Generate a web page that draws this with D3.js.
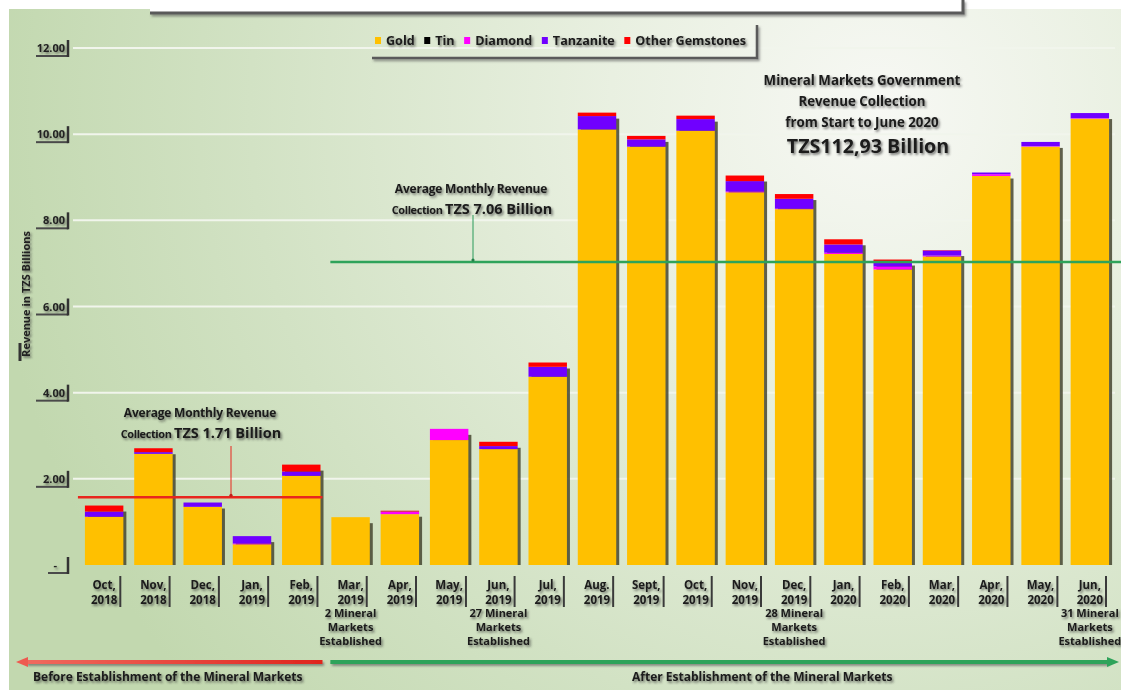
<!DOCTYPE html>
<html><head><meta charset="utf-8">
<script src="https://cdn.jsdelivr.net/npm/d3@7"></script>
<style>
html,body{margin:0;padding:0;background:#fff;}
svg{display:block;font-family:"Open Sans",Lato,"DejaVu Sans",sans-serif;font-weight:700;}
</style></head>
<body>
<svg id="chart" width="1121" height="697"></svg>
<script>
// ---- data ----
const monthLabels = ["Oct,","Nov,","Dec,","Jan,","Feb,","Mar,","Apr,","May,","Jun,","Jul,","Aug.","Sept,","Oct,","Nov,","Dec,","Jan,","Feb,","Mar,","Apr,","May,","Jun,"];
const yearLabels  = ["2018","2018","2018","2019","2019","2019","2019","2019","2019","2019","2019","2019","2019","2019","2019","2020","2020","2020","2020","2020","2020"];
const gold      = [1.12,2.58,1.35,0.48,2.07,1.11,1.18,2.90,2.69,4.37,10.11,9.71,10.08,8.65,8.26,7.22,6.86,7.16,9.03,9.71,10.36];
const tin       = [0,0,0,0,0,0,0,0,0,0,0,0,0,0,0,0,0,0,0,0,0];
const diamond   = [0,0,0,0.02,0,0,0.05,0.26,0,0,0,0,0,0.02,0.01,0.03,0.07,0.02,0.04,0.01,0.01];
const tanzanite = [0.12,0.04,0.10,0.17,0.10,0,0.01,0,0.07,0.23,0.31,0.17,0.27,0.24,0.23,0.19,0.08,0.12,0.04,0.10,0.12];
const otherGems = [0.14,0.09,0,0,0.16,0,0.02,0,0.10,0.10,0.08,0.08,0.08,0.13,0.11,0.12,0.08,0.01,0,0,0];
const seriesNames = ["Gold","Tin","Diamond","Tanzanite","Other Gemstones"];
const seriesKeys  = ["gold","tin","diamond","tanzanite","other"];
const seriesColors = ["#FFC000","#000000","#FF00FF","#7000FF","#FF0000"];
const yTicks = [0,2,4,6,8,10,12];
const yTickLabels = ["-","2.00","4.00","6.00","8.00","10.00","12.00"];
const avgBeforeLine = 1.57, avgBeforeText = "TZS 1.71 Billion";
const avgAfterLine = 7.03, avgAfterText = "TZS 7.06 Billion";
const milestones = [
  {month:5, lines:["2 Mineral","Markets","Established"]},
  {month:8, lines:["27 Mineral","Markets","Established"]},
  {month:14, lines:["28 Mineral","Markets","Established"]},
  {month:20, lines:["31 Mineral","Markets","Established"]}
];
const titleLines = ["Mineral Markets Government","Revenue Collection","from Start to June 2020"];
const titleTotal = "TZS112,93 Billion";

// ---- setup ----
const svg = d3.select("#chart");
const defs = svg.append("defs");
const rg = defs.append("radialGradient").attr("id","bg").attr("gradientUnits","userSpaceOnUse")
  .attr("cx",880).attr("cy",110).attr("r",900);
rg.append("stop").attr("offset",0).attr("stop-color","#f7f8f4");
rg.append("stop").attr("offset",0.3).attr("stop-color","#e9f0e1");
rg.append("stop").attr("offset",0.7).attr("stop-color","#d2e2c4");
rg.append("stop").attr("offset",1).attr("stop-color","#c2d8af");
const f = defs.append("filter").attr("id","ts").attr("filterUnits","userSpaceOnUse").attr("x",0).attr("y",0).attr("width",1121).attr("height",697);
f.append("feDropShadow").attr("dx",1.5).attr("dy",1.8).attr("stdDeviation",0.9).attr("flood-color","#333").attr("flood-opacity",0.65);
const f2 = defs.append("filter").attr("id","ls").attr("filterUnits","userSpaceOnUse").attr("x",0).attr("y",0).attr("width",1121).attr("height",697);
f2.append("feDropShadow").attr("dx",1.5).attr("dy",2).attr("stdDeviation",1).attr("flood-color","#555").attr("flood-opacity",0.6);
const ag = defs.append("linearGradient").attr("id","redArrow").attr("x1",0).attr("x2",1).attr("y1",0).attr("y2",0);
ag.append("stop").attr("offset",0).attr("stop-color","#f06a5e");
ag.append("stop").attr("offset",1).attr("stop-color","#e0261e");

svg.append("rect").attr("x",9).attr("y",9).attr("width",1112).attr("height",681).attr("fill","url(#bg)");

// top frame (cropped title box)
svg.append("rect").attr("x",150).attr("y",0).attr("width",813).attr("height",13).attr("fill","#fff");
svg.append("path").attr("d","M150,13H963V0").attr("fill","none").attr("stroke","#5a5a5a").attr("stroke-width",3).attr("filter","url(#ls)");

const x = d3.scaleBand().domain(d3.range(monthLabels.length)).range([79.5,1114.5]).paddingInner(0.22).paddingOuter(0.11);
const y = d3.scaleLinear().domain([0,12]).range([565,48]);
const bw = x.bandwidth();

// gridlines
svg.append("g").selectAll("line").data(yTicks.filter(d=>d>0)).join("line")
  .attr("x1",73).attr("x2",1115).attr("y1",d=>y(d)).attr("y2",d=>y(d))
  .attr("stroke","#f1f5ec").attr("stroke-width",2);

// y labels
const yl = svg.append("g");
yTicks.forEach((t,i)=>{
  const yy = y(t);
  yl.append("text").attr("x",i===0?57:65).attr("y",yy+4).attr("text-anchor","end")
    .attr("font-size",11).attr("fill","#222").attr("filter","url(#ts)").text(yTickLabels[i]);
  yl.append("line").attr("x1",i===0?48:36).attr("x2",68).attr("y1",yy+8).attr("y2",yy+8).attr("stroke","#4a4a4a").attr("stroke-width",2);
  yl.append("line").attr("x1",68).attr("x2",68).attr("y1",yy-8).attr("y2",yy+9).attr("stroke","#333").attr("stroke-width",2.5);
});
svg.append("g").attr("filter","url(#ts)")
  .append("text").attr("transform","translate(30,294) rotate(-90)").attr("text-anchor","middle")
  .attr("font-size",11).attr("fill","#222").text("Revenue in TZS Billions");
svg.append("line").attr("x1",20).attr("x2",20).attr("y1",343).attr("y2",361).attr("stroke","#333").attr("stroke-width",3);

// stacked data
const rows = monthLabels.map((m,i)=>({i, gold:gold[i], tin:tin[i], diamond:diamond[i], tanzanite:tanzanite[i], other:otherGems[i]}));
const stacked = d3.stack().keys(seriesKeys)(rows);
const totals = rows.map(r=>seriesKeys.reduce((s,k)=>s+r[k],0));

// bar shadows
svg.append("g").selectAll("rect").data(rows).join("rect")
  .attr("x",d=>x(d.i)+3).attr("y",d=>y(totals[d.i])+6).attr("width",bw)
  .attr("height",d=>y(0)-y(totals[d.i])-6).attr("fill","#45452f").attr("opacity",0.85);

// bars
svg.append("g").selectAll("g").data(stacked).join("g").attr("fill",(d,i)=>seriesColors[i])
  .selectAll("rect").data(d=>d).join("rect")
  .attr("x",d=>x(d.data.i)).attr("y",d=>y(d[1])).attr("width",bw)
  .attr("height",d=>Math.max(0,y(d[0])-y(d[1])));

// average lines
const xBeforeStart = x(0)-7, xBeforeEnd = x(4)+bw+2;
svg.append("line").attr("x1",xBeforeStart).attr("x2",xBeforeEnd).attr("y1",y(avgBeforeLine)).attr("y2",y(avgBeforeLine))
  .attr("stroke","#e8261e").attr("stroke-width",2.5);
svg.append("line").attr("x1",x(5)-1).attr("x2",1121).attr("y1",y(avgAfterLine)).attr("y2",y(avgAfterLine))
  .attr("stroke","#2ea35a").attr("stroke-width",2.5);

// pointers
svg.append("line").attr("x1",231).attr("x2",231).attr("y1",446).attr("y2",y(avgBeforeLine)-2).attr("stroke","#e8261e").attr("stroke-width",1);
svg.append("circle").attr("cx",231).attr("cy",y(avgBeforeLine)-2).attr("r",1.6).attr("fill","#c0201a");
svg.append("line").attr("x1",473).attr("x2",473).attr("y1",215).attr("y2",y(avgAfterLine)-2).attr("stroke","#2a9a5a").attr("stroke-width",1);
svg.append("circle").attr("cx",473).attr("cy",y(avgAfterLine)-2).attr("r",1.6).attr("fill","#23804a");

function avgLabel(cx, y1, big){
  const g = svg.append("g").attr("filter","url(#ts)").attr("fill","#1a1a1a");
  g.append("text").attr("x",cx).attr("y",y1).attr("text-anchor","middle").attr("font-size",12).attr("letter-spacing",-0.2).text("Average Monthly Revenue");
  const t = g.append("text").attr("x",cx+1).attr("y",y1+21).attr("text-anchor","middle");
  t.append("tspan").attr("font-size",11).attr("letter-spacing",-0.4).text("Collection ");
  t.append("tspan").attr("font-size",14.5).text(big);
}
avgLabel(200,417,avgBeforeText);
avgLabel(471,193,avgAfterText);

// title
const tg = svg.append("g").attr("filter","url(#ts)").attr("fill","#1a1a1a").attr("text-anchor","middle");
titleLines.forEach((l,i)=>tg.append("text").attr("x",862).attr("y",85+i*21).attr("font-size",13.3).text(l));
tg.append("text").attr("x",868).attr("y",153).attr("font-size",19.6).text(titleTotal);

// legend
const lg = svg.append("g");
let lx = 375;
seriesNames.forEach((n,i)=>{
  lg.append("rect").attr("x",lx).attr("y",37).attr("width",6).attr("height",7).attr("fill",seriesColors[i]);
  const t = lg.append("text").attr("x",lx+11).attr("y",45).attr("font-size",12.6).attr("fill","#1a1a1a").attr("filter","url(#ts)").text(n);
  lx += 11 + t.node().getComputedTextLength() + 9.5;
});
svg.append("path").attr("d",`M372,58H757V25`).attr("fill","none").attr("stroke","#5a5a5a").attr("stroke-width",2.5).attr("filter","url(#ls)");

// x labels
const xl = svg.append("g");
monthLabels.forEach((m,i)=>{
  const cx = x(i)+bw/2;
  const g = xl.append("g").attr("filter","url(#ts)").attr("fill","#1a1a1a").attr("font-size",11.5).attr("text-anchor","middle");
  const t1 = g.append("text").attr("x",cx).attr("y",589).text(m);
  const t2 = g.append("text").attr("x",cx).attr("y",604).text(yearLabels[i]);
  const w = Math.max(t1.node().getComputedTextLength(), t2.node().getComputedTextLength());
  xl.append("line").attr("x1",cx+w/2+3).attr("x2",cx+w/2+3).attr("y1",576).attr("y2",607).attr("stroke","#3a3a3a").attr("stroke-width",2);
});

// milestones
milestones.forEach(ms=>{
  const cx = x(ms.month)+bw/2;
  const g = svg.append("g").attr("filter","url(#ts)").attr("fill","#1a1a1a").attr("font-size",11).attr("text-anchor","middle");
  ms.lines.forEach((l,j)=>g.append("text").attr("x",cx).attr("y",617+j*14).text(l));
});

// bottom arrows
const ay = 662;
svg.append("rect").attr("x",26).attr("y",ay-2).attr("width",xBeforeEnd-26).attr("height",4).attr("fill","url(#redArrow)").attr("filter","url(#ls)");
svg.append("path").attr("d",`M16,${ay}L28,${ay-5}L28,${ay+5}Z`).attr("fill","#ee5a50");
svg.append("rect").attr("x",x(5)-1).attr("y",ay-2).attr("width",1108-x(5)+1).attr("height",4).attr("fill","#2ea35a").attr("filter","url(#ls)");
svg.append("path").attr("d",`M1119,${ay}L1107,${ay-5}L1107,${ay+5}Z`).attr("fill","#2ea35a");

svg.append("text").attr("x",33).attr("y",681).attr("font-size",12).attr("fill","#1a1a1a").attr("filter","url(#ts)")
  .text("Before Establishment of the Mineral Markets");
svg.append("text").attr("x",632).attr("y",681).attr("font-size",12).attr("fill","#1a1a1a").attr("filter","url(#ts)")
  .text("After Establishment of the Mineral Markets");
</script>
</body></html>
